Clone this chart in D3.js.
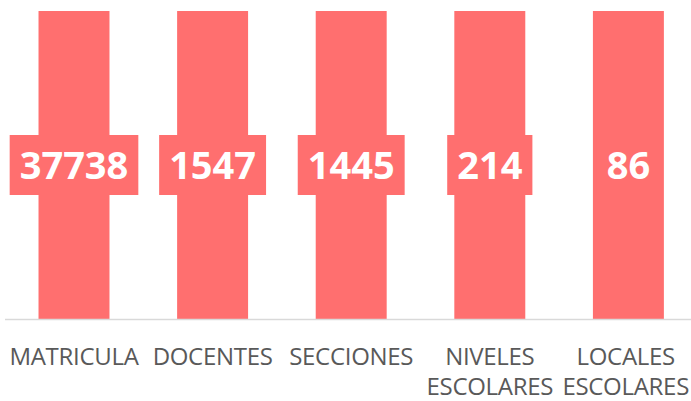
<!DOCTYPE html>
<html lang="es">
<head>
<meta charset="utf-8">
<script src="https://d3js.org/d3.v7.min.js"></script>
<style>
  body { margin: 0; background: #fff; }
  .cat { font-family: "Open Sans", sans-serif; font-size: 24px; letter-spacing: -0.3px; fill: #595959; }
  .val { font-family: "Open Sans", sans-serif; font-size: 38px; font-weight: bold; fill: #fff; }
</style>
</head>
<body>
<script>
// datos
var categories = [["MATRICULA"], ["DOCENTES"], ["SECCIONES"], ["NIVELES", "ESCOLARES"], ["LOCALES", "ESCOLARES"]];
var values = [37738, 1547, 1445, 214, 86];
// each column shown as 100% of itself
var percent = [100, 100, 100, 100, 100];

var width = 691, height = 401;
var barColor = "#ff6f6f";

var svg = d3.select("body").append("svg")
    .attr("width", width)
    .attr("height", height);

var x = d3.scaleBand()
    .domain(d3.range(values.length))
    .range([4.7, 697.7])
    .paddingInner(0.488)
    .paddingOuter(0.244);

var y = d3.scaleLinear()
    .domain([0, 100])
    .range([319, 11]);

// bars
svg.append("g").selectAll("rect")
    .data(percent)
    .enter().append("rect")
    .attr("x", function(d, i) { return x(i); })
    .attr("y", function(d) { return y(d); })
    .attr("width", x.bandwidth())
    .attr("height", function(d) { return y(0) - y(d); })
    .attr("fill", barColor);

// axis line
svg.append("line")
    .attr("x1", 5).attr("x2", width)
    .attr("y1", 319.5).attr("y2", 319.5)
    .attr("stroke", "#d9d9d9")
    .attr("stroke-width", 1.5);

// value labels with box
var lab = svg.append("g").selectAll("g")
    .data(values)
    .enter().append("g")
    .attr("transform", function(d, i) {
        return "translate(" + (x(i) + x.bandwidth() / 2) + "," + y(percent[i] / 2) + ")";
    });

lab.append("rect").attr("fill", barColor);
lab.append("text")
    .attr("class", "val")
    .attr("text-anchor", "middle")
    .attr("dy", "0.36em")
    .text(function(d) { return d; });

lab.each(function() {
    var g = d3.select(this);
    var w = g.select("text").node().getComputedTextLength();
    g.select("rect")
        .attr("x", -w / 2 - 10)
        .attr("y", -30)
        .attr("width", w + 20)
        .attr("height", 60);
});

// category labels
var cats = svg.append("g").selectAll("text")
    .data(categories)
    .enter().append("text")
    .attr("class", "cat")
    .attr("text-anchor", "middle")
    .attr("y", 364.5);

cats.selectAll("tspan")
    .data(function(d) { return d; })
    .enter().append("tspan")
    .attr("dy", function(d, i) { return i ? 30 : 0; })
    .text(function(d) { return d; });

// center each label on its band, but keep it inside the picture
cats.each(function(d, i) {
    var t = d3.select(this);
    var cx = x(i) + x.bandwidth() / 2;
    var w = d3.max(t.selectAll("tspan").nodes(), function(n) { return n.getComputedTextLength(); });
    if (cx + w / 2 > width - 2) cx = width - 2 - w / 2;
    t.attr("x", cx);
    t.selectAll("tspan").attr("x", cx);
});
</script>
</body>
</html>
